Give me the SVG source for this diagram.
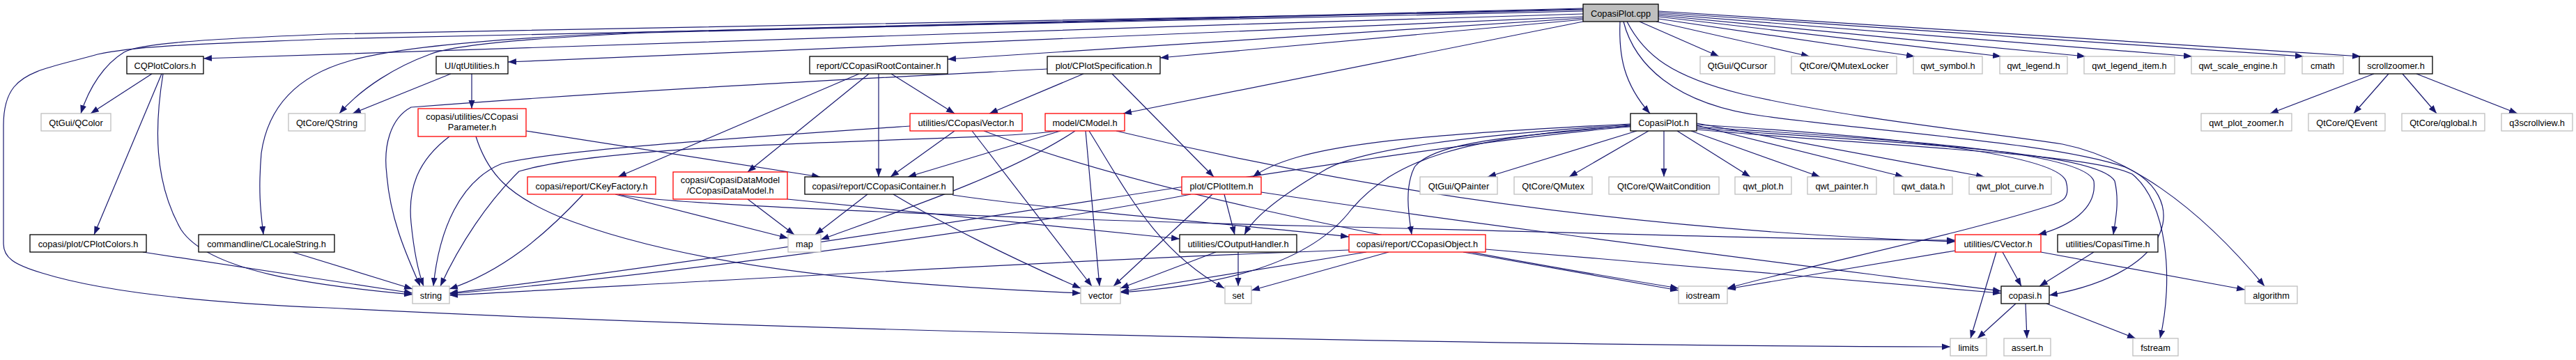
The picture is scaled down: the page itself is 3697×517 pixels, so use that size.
<svg xmlns="http://www.w3.org/2000/svg" width="3697" height="517" viewBox="0 0 3697 517">
<style>
.e{fill:none;stroke:#191970;stroke-width:1.2;marker-end:url(#ah)}
.n rect{fill:#fff;stroke-width:1.3}
.b rect{stroke:#000}
.r rect{stroke:#ff0000}
.g rect{stroke:#bfbfbf}
.root rect{fill:#bfbfbf;stroke:#000}
text{font-family:"Liberation Sans",Arial,Helvetica,sans-serif;font-size:12.8px;fill:#000;text-anchor:middle}
</style>
<defs>
<marker id="ah" markerUnits="userSpaceOnUse" markerWidth="13" markerHeight="10" refX="12" refY="4.5" orient="auto">
<path d="M0,0 L12,4.5 L0,9 z" fill="#191970"/>
</marker>
</defs>
<rect width="3697" height="517" fill="#fff"/>
<g id="edges">
<path class="e" d="M2272,20 C1600,40 900,62 292,84"/>
<path class="e" d="M2272,14 C1600,30 900,40 470,49 C300,56 200,62 178,75 C150,92 128,125 116,163"/>
<path class="e" d="M2272,13 C1600,28 1100,40 930,47 C750,55 650,65 617,78 C570,95 520,125 487,163"/>
<path class="e" d="M2272,24 L729,89"/>
<path class="e" d="M2272,12 C1600,26 1100,38 930,46 C700,55 560,70 500,88 C430,108 385,150 375,220 C370,280 375,310 378,337"/>
<path class="e" d="M2272,16 C1600,32 900,45 470,56 C300,63 200,65 140,78 C80,95 40,100 20,125 C8,140 5,160 5,180 L5,350 C5,370 20,380 60,392 C150,420 300,435 470,442 C1200,480 2300,497 2799,498"/>
<path class="e" d="M2272,26 L1360,85"/>
<path class="e" d="M2272,28 L1665,83"/>
<path class="e" d="M2272,31 L1612,163"/>
<path class="e" d="M2325,31 C2323,80 2330,120 2368,163"/>
<path class="e" d="M2353,31 L2467,81"/>
<path class="e" d="M2377,31 L2597,81"/>
<path class="e" d="M2380,27 L2748,81"/>
<path class="e" d="M2380,24 L2872,81"/>
<path class="e" d="M2380,22 L2993,81"/>
<path class="e" d="M2380,20 L3146,81"/>
<path class="e" d="M2380,18 L3306,81"/>
<path class="e" d="M2380,16 L3388,81"/>
<path class="e" d="M2335,31 C2360,80 2400,110 2500,135 C2650,170 2850,190 2960,207 C3050,225 3150,290 3250,411"/>
<path class="e" d="M2330,31 C2345,90 2400,150 2533,167 C2700,190 2950,205 3050,240 C3140,280 3130,390 2941,424"/>
<path class="e" d="M2388,188 L2388,254"/>
<path class="e" d="M2407,188 L2512,254"/>
<path class="e" d="M2427,188 L2612,254"/>
<path class="e" d="M2435,180 L2732,254"/>
<path class="e" d="M2435,177 L2848,254"/>
<path class="e" d="M2349,188 L2135,254"/>
<path class="e" d="M2366,188 L2252,254"/>
<path class="e" d="M2340,180 C2200,195 2060,200 2030,240 C2015,270 2022,310 2026,337"/>
<path class="e" d="M2340,179 C2100,195 1950,215 1900,245 C1840,280 1800,310 1786,337"/>
<path class="e" d="M2340,178 C2000,195 1860,210 1798,254"/>
<path class="e" d="M2340,181 C2100,195 2000,230 1940,300 C1880,380 1750,410 1608,420"/>
<path class="e" d="M2340,182 C2000,210 1300,340 645,421"/>
<path class="e" d="M2435,182 C2700,200 2990,215 3005,260 C3010,300 2970,325 2925,337"/>
<path class="e" d="M2435,184 C2700,205 3010,215 3035,260 C3042,290 3036,315 3033,337"/>
<path class="e" d="M2435,186 C2700,210 3000,220 3060,250 C3110,290 3120,400 3100,486"/>
<path class="e" d="M2435,179 C2700,195 2950,220 2965,260 C2972,285 2960,290 2940,296 C2800,340 2600,380 2479,414"/>
<path class="e" d="M218,106 L130,163"/>
<path class="e" d="M232,106 L135,337"/>
<path class="e" d="M234,106 C222,180 220,260 260,330 C300,390 450,410 592,423"/>
<path class="e" d="M205,362 L592,421"/>
<path class="e" d="M420,362 L592,415"/>
<path class="e" d="M647,106 L506,163"/>
<path class="e" d="M677,106 L677,156"/>
<path class="e" d="M645,196 C600,230 585,270 590,320 C594,360 600,390 608,411"/>
<path class="e" d="M755,188 L1177,254"/>
<path class="e" d="M683,196 C700,250 730,280 800,310 C1000,390 1300,410 1551,421"/>
<path class="e" d="M1503,99 C1200,115 900,130 590,154 C560,170 550,210 555,250 C560,320 590,380 603,411"/>
<path class="e" d="M1555,106 L1420,163"/>
<path class="e" d="M1596,106 L1742,254"/>
<path class="e" d="M1233,106 L887,254"/>
<path class="e" d="M1247,106 L1073,247"/>
<path class="e" d="M1261,106 L1261,254"/>
<path class="e" d="M1279,106 L1370,163"/>
<path class="e" d="M1370,188 L1278,254"/>
<path class="e" d="M1306,181 C1100,195 800,215 720,235 C660,260 630,330 622,411"/>
<path class="e" d="M1395,188 L1567,411"/>
<path class="e" d="M1412,188 C1600,260 1900,330 2409,414"/>
<path class="e" d="M1518,188 C1400,205 900,200 745,246 C700,290 660,350 632,411"/>
<path class="e" d="M1522,188 L1303,254"/>
<path class="e" d="M1543,188 C1450,250 1300,300 1178,344"/>
<path class="e" d="M1558,188 L1578,411"/>
<path class="e" d="M1563,188 C1620,280 1660,360 1757,414"/>
<path class="e" d="M1602,188 C1900,260 2300,330 2806,347"/>
<path class="e" d="M837,279 C780,340 720,390 645,415"/>
<path class="e" d="M883,279 L1131,342"/>
<path class="e" d="M888,279 C950,295 1500,315 1900,325 C2300,335 2600,345 2806,345"/>
<path class="e" d="M1073,286 L1140,337"/>
<path class="e" d="M1130,286 L1693,343"/>
<path class="e" d="M1245,279 L1170,337"/>
<path class="e" d="M1282,279 C1350,320 1450,370 1551,414"/>
<path class="e" d="M1367,280 C1500,300 1800,325 1936,340"/>
<path class="e" d="M1709,279 C1500,320 1000,390 645,422"/>
<path class="e" d="M1740,279 L1598,411"/>
<path class="e" d="M1757,279 L1772,337"/>
<path class="e" d="M1810,276 C2100,320 2500,370 2872,418"/>
<path class="e" d="M1745,362 L1608,414"/>
<path class="e" d="M1777,362 L1777,411"/>
<path class="e" d="M1936,359 C1500,375 1000,405 645,424"/>
<path class="e" d="M1961,362 L1608,419"/>
<path class="e" d="M1993,362 L1796,417"/>
<path class="e" d="M2132,358 C2400,380 2700,405 2872,421"/>
<path class="e" d="M2100,362 L2409,417"/>
<path class="e" d="M3005,362 L2927,411"/>
<path class="e" d="M2874,362 L2901,411"/>
<path class="e" d="M2865,362 L2828,486"/>
<path class="e" d="M2806,360 L2479,415"/>
<path class="e" d="M2929,362 L3222,416"/>
<path class="e" d="M2893,436 L2838,486"/>
<path class="e" d="M2907,436 L2909,486"/>
<path class="e" d="M2937,436 L3065,486"/>
<path class="e" d="M3407,106 L3258,163"/>
<path class="e" d="M3428,106 L3378,163"/>
<path class="e" d="M3448,106 L3497,163"/>
<path class="e" d="M3468,106 L3613,163"/>
</g>
<g id="n_cpp" class="n root"><rect x="2272" y="6" width="108" height="25"/><text x="2326" y="23.5">CopasiPlot.cpp</text></g>
<g id="n_cqpc" class="n b"><rect x="182" y="81" width="110" height="25"/><text x="237" y="98.5">CQPlotColors.h</text></g>
<g id="n_qtutil" class="n b"><rect x="626" y="81" width="103" height="25"/><text x="677.5" y="98.5">UI/qtUtilities.h</text></g>
<g id="n_rootc" class="n b"><rect x="1162" y="81" width="198" height="25"/><text x="1261" y="98.5">report/CCopasiRootContainer.h</text></g>
<g id="n_plotspec" class="n b"><rect x="1503" y="81" width="162" height="25"/><text x="1584" y="98.5">plot/CPlotSpecification.h</text></g>
<g id="n_qcursor" class="n g"><rect x="2440" y="81" width="107" height="25"/><text x="2493.5" y="98.5">QtGui/QCursor</text></g>
<g id="n_qmlock" class="n g"><rect x="2571" y="81" width="151" height="25"/><text x="2646.5" y="98.5">QtCore/QMutexLocker</text></g>
<g id="n_qsym" class="n g"><rect x="2746" y="81" width="99" height="25"/><text x="2795.5" y="98.5">qwt_symbol.h</text></g>
<g id="n_qleg" class="n g"><rect x="2870" y="81" width="97" height="25"/><text x="2918.5" y="98.5">qwt_legend.h</text></g>
<g id="n_qlegi" class="n g"><rect x="2991" y="81" width="130" height="25"/><text x="3056" y="98.5">qwt_legend_item.h</text></g>
<g id="n_qscale" class="n g"><rect x="3145" y="81" width="134" height="25"/><text x="3212" y="98.5">qwt_scale_engine.h</text></g>
<g id="n_cmath" class="n g"><rect x="3304" y="81" width="59" height="25"/><text x="3333.5" y="98.5">cmath</text></g>
<g id="n_scroll" class="n b"><rect x="3386" y="81" width="105" height="25"/><text x="3438.5" y="98.5">scrollzoomer.h</text></g>
<g id="n_qcolor" class="n g"><rect x="59" y="163" width="100" height="25"/><text x="109" y="180.5">QtGui/QColor</text></g>
<g id="n_qstring" class="n g"><rect x="414" y="163" width="110" height="25"/><text x="469" y="180.5">QtCore/QString</text></g>
<g id="n_param" class="n r"><rect x="600" y="156" width="155" height="40"/><text x="677.5" y="172">copasi/utilities/CCopasi</text><text x="677.5" y="187">Parameter.h</text></g>
<g id="n_ccvec" class="n r"><rect x="1306" y="163" width="161" height="25"/><text x="1386.5" y="180.5">utilities/CCopasiVector.h</text></g>
<g id="n_cmodel" class="n r"><rect x="1500" y="163" width="114" height="25"/><text x="1557" y="180.5">model/CModel.h</text></g>
<g id="n_cph" class="n b"><rect x="2340" y="163" width="95" height="25"/><text x="2387.5" y="180.5">CopasiPlot.h</text></g>
<g id="n_zoomer" class="n g"><rect x="3159" y="163" width="130" height="25"/><text x="3224" y="180.5">qwt_plot_zoomer.h</text></g>
<g id="n_qevent" class="n g"><rect x="3313" y="163" width="110" height="25"/><text x="3368" y="180.5">QtCore/QEvent</text></g>
<g id="n_qglobal" class="n g"><rect x="3447" y="163" width="119" height="25"/><text x="3506.5" y="180.5">QtCore/qglobal.h</text></g>
<g id="n_q3" class="n g"><rect x="3590" y="163" width="102" height="25"/><text x="3641" y="180.5">q3scrollview.h</text></g>
<g id="n_keyf" class="n r"><rect x="757" y="254" width="184" height="25"/><text x="849" y="271.5">copasi/report/CKeyFactory.h</text></g>
<g id="n_datamodel" class="n r"><rect x="966" y="247" width="164" height="39"/><text x="1048" y="263">copasi/CopasiDataModel</text><text x="1048" y="278">/CCopasiDataModel.h</text></g>
<g id="n_container" class="n b"><rect x="1155" y="254" width="213" height="25"/><text x="1261.5" y="271.5">copasi/report/CCopasiContainer.h</text></g>
<g id="n_plotitem" class="n r"><rect x="1696" y="254" width="114" height="25"/><text x="1753" y="271.5">plot/CPlotItem.h</text></g>
<g id="n_qpainter" class="n g"><rect x="2038" y="254" width="111" height="25"/><text x="2093.5" y="271.5">QtGui/QPainter</text></g>
<g id="n_qmutex" class="n g"><rect x="2173" y="254" width="112" height="25"/><text x="2229" y="271.5">QtCore/QMutex</text></g>
<g id="n_qwait" class="n g"><rect x="2309" y="254" width="158" height="25"/><text x="2388" y="271.5">QtCore/QWaitCondition</text></g>
<g id="n_qplot" class="n g"><rect x="2490" y="254" width="81" height="25"/><text x="2530.5" y="271.5">qwt_plot.h</text></g>
<g id="n_qpainterh" class="n g"><rect x="2594" y="254" width="99" height="25"/><text x="2643.5" y="271.5">qwt_painter.h</text></g>
<g id="n_qdata" class="n g"><rect x="2718" y="254" width="84" height="25"/><text x="2760" y="271.5">qwt_data.h</text></g>
<g id="n_qcurve" class="n g"><rect x="2826" y="254" width="118" height="25"/><text x="2885" y="271.5">qwt_plot_curve.h</text></g>
<g id="n_cplotcolors" class="n b"><rect x="43" y="337" width="167" height="25"/><text x="126.5" y="354.5">copasi/plot/CPlotColors.h</text></g>
<g id="n_clocale" class="n b"><rect x="285" y="337" width="195" height="25"/><text x="382.5" y="354.5">commandline/CLocaleString.h</text></g>
<g id="n_map" class="n g"><rect x="1131" y="337" width="47" height="25"/><text x="1154.5" y="354.5">map</text></g>
<g id="n_outh" class="n b"><rect x="1693" y="337" width="168" height="25"/><text x="1777" y="354.5">utilities/COutputHandler.h</text></g>
<g id="n_cobj" class="n r"><rect x="1936" y="337" width="196" height="25"/><text x="2034" y="354.5">copasi/report/CCopasiObject.h</text></g>
<g id="n_cvector" class="n r"><rect x="2806" y="337" width="123" height="25"/><text x="2867.5" y="354.5">utilities/CVector.h</text></g>
<g id="n_ctime" class="n b"><rect x="2953" y="337" width="144" height="25"/><text x="3025" y="354.5">utilities/CopasiTime.h</text></g>
<g id="n_string" class="n g"><rect x="592" y="411" width="53" height="25"/><text x="618.5" y="428.5">string</text></g>
<g id="n_vector" class="n g"><rect x="1551" y="411" width="57" height="25"/><text x="1579.5" y="428.5">vector</text></g>
<g id="n_set" class="n g"><rect x="1758" y="411" width="38" height="25"/><text x="1777" y="428.5">set</text></g>
<g id="n_iostream" class="n g"><rect x="2409" y="411" width="70" height="25"/><text x="2444" y="428.5">iostream</text></g>
<g id="n_copasih" class="n b"><rect x="2872" y="411" width="69" height="25"/><text x="2906.5" y="428.5">copasi.h</text></g>
<g id="n_algorithm" class="n g"><rect x="3222" y="411" width="75" height="25"/><text x="3259.5" y="428.5">algorithm</text></g>
<g id="n_limits" class="n g"><rect x="2799" y="486" width="52" height="25"/><text x="2825" y="503.5">limits</text></g>
<g id="n_assert" class="n g"><rect x="2876" y="486" width="67" height="25"/><text x="2909.5" y="503.5">assert.h</text></g>
<g id="n_fstream" class="n g"><rect x="3061" y="486" width="65" height="25"/><text x="3093.5" y="503.5">fstream</text></g>
</svg>
